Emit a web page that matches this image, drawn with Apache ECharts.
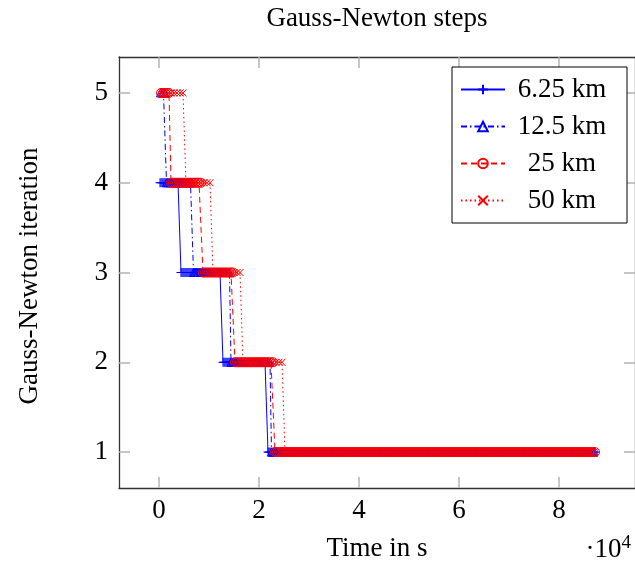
<!DOCTYPE html>
<html>
<head>
<meta charset="utf-8">
<script src="https://cdn.jsdelivr.net/npm/echarts@6/dist/echarts.min.js"></script>
<style>
html,body{margin:0;padding:0;background:#fff;}
#chart{width:635px;height:565px;}
</style>
</head>
<body>
<div id="chart"></div>
<script>
// ---- data ----
const seriesNames = ['6.25 km', '12.5 km', '25 km', '50 km'];
const startTimes = [200, 300, 400, 600];       // first time step (s)
const timeSteps = [200, 300, 400, 600];        // time step size (s)
const endTime = 87200;                          // last simulated time (s)
const iterLevels = [[4, 3, 2, 1], [5, 4, 3, 2, 1], [5, 4, 3, 2, 1], [5, 4, 3, 2, 1]];
const switchTimes = [[4300, 12700, 21700], [1200, 6700, 14200, 22200], [2000, 8700, 14900, 23000], [4900, 10300, 16300, 24700]];
const xTickValues = [0, 20000, 40000, 60000, 80000];
const yTickValues = [1, 2, 3, 4, 5];

function buildSeriesData(k) {
  const pts = [];
  for (let t = startTimes[k]; t <= endTime; t += timeSteps[k]) {
    let j = 0;
    while (j < switchTimes[k].length && t > switchTimes[k][j]) j++;
    pts.push([t, iterLevels[k][j]]);
  }
  return pts;
}

const FONT = 'Liberation Serif';
const FS = 27;
const looks = [
  { type: 'solid', color: '#0000ff', symbol: 'path://M0,-1L0,1M-1,0L1,0', size: 9 },
  { type: [6, 3, 1.5, 3], color: '#0000ff', symbol: 'triangle', size: 8 },
  { type: [6, 4], color: '#ff0000', symbol: 'circle', size: 9 },
  { type: [1.5, 3], color: '#ff0000', symbol: 'path://M-1,-1L1,1M-1,1L1,-1', size: 7 }
];

const series = seriesNames.map((name, k) => ({
  name: name,
  type: 'line',
  data: buildSeriesData(k),
  xAxisIndex: 0,
  yAxisIndex: 0,
  symbol: looks[k].symbol,
  symbolSize: looks[k].size,
  showSymbol: true,
  lineStyle: { color: looks[k].color, width: 1, type: looks[k].type },
  itemStyle: { color: 'rgba(0,0,0,0)', borderColor: looks[k].color, borderWidth: 1 },
  emphasis: { disabled: true },
  animation: false
}));

const tickStyle = { show: true, inside: true, length: 11, lineStyle: { color: '#b4b4b4', width: 1.5 } };
const lineStyleAxis = { show: true, onZero: false, lineStyle: { color: '#333', width: 1.3 } };

const option = {
  animation: false,
  backgroundColor: '#fff',
  grid: { left: 119, right: 0, top: 57, bottom: 77, containLabel: false },
  xAxis: [
    {
      type: 'value', min: -8000, max: 95200, position: 'bottom',
      axisLine: lineStyleAxis,
      axisTick: Object.assign({ customValues: xTickValues }, tickStyle),
      axisLabel: { customValues: xTickValues, formatter: v => String(v / 10000), fontFamily: FONT, fontSize: FS, color: '#000', margin: 9 },
      splitLine: { show: false }
    },
    {
      type: 'value', min: -8000, max: 95200, position: 'top',
      axisLine: lineStyleAxis,
      axisTick: Object.assign({ customValues: xTickValues }, tickStyle),
      axisLabel: { show: false },
      splitLine: { show: false }
    }
  ],
  yAxis: [
    {
      type: 'value', min: 0.6, max: 5.4, position: 'left',
      axisLine: lineStyleAxis,
      axisTick: Object.assign({ customValues: yTickValues }, tickStyle),
      axisLabel: { customValues: yTickValues, formatter: v => String(v), fontFamily: FONT, fontSize: FS, color: '#000', margin: 11 },
      splitLine: { show: false }
    },
    {
      type: 'value', min: 0.6, max: 5.4, position: 'right',
      axisLine: lineStyleAxis,
      axisTick: Object.assign({ customValues: yTickValues }, tickStyle),
      axisLabel: { show: false },
      splitLine: { show: false }
    }
  ],
  legend: {
    orient: 'vertical',
    left: 452, top: 67,
    padding: [9, 13, 9, 8],
    itemGap: 10,
    itemWidth: 44,
    itemHeight: 12,
    borderColor: '#000', borderWidth: 1,
    backgroundColor: '#fff',
    data: seriesNames,
    formatter: name => '{a|' + name + '}',
    textStyle: {
      fontFamily: FONT, fontSize: FS, color: '#000', lineHeight: 26,
      rich: { a: { width: 104, align: 'center', fontFamily: FONT, fontSize: FS, lineHeight: 26 } }
    }
  },
  graphic: [
    { type: 'text', x: 377, y: 19, style: { text: 'Gauss-Newton steps', font: FS + 'px "Liberation Serif"', fill: '#000', align: 'center', verticalAlign: 'middle' } },
    { type: 'text', x: 377, y: 549, style: { text: 'Time in s', font: FS + 'px "Liberation Serif"', fill: '#000', align: 'center', verticalAlign: 'middle' } },
    { type: 'text', x: 30, y: 276, rotation: Math.PI / 2, style: { text: 'Gauss-Newton iteration', font: FS + 'px "Liberation Serif"', fill: '#000', align: 'center', verticalAlign: 'middle' } },
    { type: 'text', x: 631, y: 550, style: { text: '·10{s|4}', font: FS + 'px "Liberation Serif"', fill: '#000', align: 'right', verticalAlign: 'middle', rich: { s: { fontSize: 19, fontFamily: FONT, verticalAlign: 'top', padding: [0, 0, 14, 0] } } } }
  ],
  series: series
};

const chart = echarts.init(document.getElementById('chart'), null, { renderer: 'canvas' });
chart.setOption(option);
</script>
</body>
</html>
